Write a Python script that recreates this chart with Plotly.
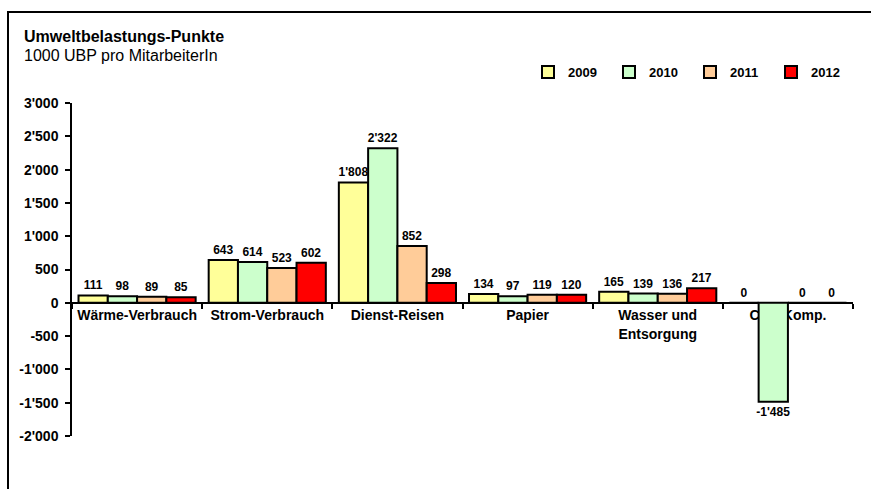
import plotly.graph_objects as go

categories = ["Wärme-Verbrauch", "Strom-Verbrauch", "Dienst-Reisen", "Papier",
              "Wasser und<br>Entsorgung", "CO2-Komp."]
years = ["2009", "2010", "2011", "2012"]
values_2009 = [111, 643, 1808, 134, 165, 0]
values_2010 = [98, 614, 2322, 97, 139, -1485]
values_2011 = [89, 523, 852, 119, 136, 0]
values_2012 = [85, 602, 298, 120, 217, 0]
colors = ["#FFFF99", "#CCFFCC", "#FFCC99", "#FF0000"]
y_ticks = [-2000, -1500, -1000, -500, 0, 500, 1000, 1500, 2000, 2500, 3000]

FONT = "Arial, 'Liberation Sans', sans-serif"


def fmt(v):
    return f"{v:,}".replace(",", "'")


series = [values_2009, values_2010, values_2011, values_2012]

fig = go.Figure()
for name, vals, col in zip(years, series, colors):
    fig.add_trace(go.Bar(
        x=categories, y=vals, name=name,
        marker=dict(color=col, line=dict(color="black", width=2)),
        text=[fmt(v) for v in vals],
        textposition="outside",
        constraintext="none",
        textfont=dict(family=FONT, size=12, color="black", weight="bold"),
        cliponaxis=False,
    ))

y_min, y_max = -2000, 3000

fig.update_layout(
    width=871, height=489,
    margin=dict(l=72, r=18, t=103, b=53, pad=0),
    paper_bgcolor="white", plot_bgcolor="white",
    barmode="group", bargap=0.1, bargroupgap=0,
    font=dict(family=FONT, color="black"),
    legend=dict(
        orientation="h", xref="paper", yref="paper",
        x=(528 - 72) / 781, y=(436 - 72) / 333, xanchor="left", yanchor="middle",
        font=dict(family=FONT, size=13, color="black", weight="bold"),
        entrywidth=36, entrywidthmode="pixels",
        itemwidth=30, bgcolor="rgba(0,0,0,0)",
    ),
    showlegend=True,
)

# title and subtitle
fig.add_annotation(text="<b>Umweltbelastungs-Punkte</b>", xref="paper", yref="paper",
                   x=(22 - 72) / 781, y=(436 - 36) / 333, xanchor="left", yanchor="middle",
                   showarrow=False, font=dict(family=FONT, size=16, color="black"))
fig.add_annotation(text="1000 UBP pro MitarbeiterIn", xref="paper", yref="paper",
                   x=(22 - 72) / 781, y=(436 - 56) / 333, xanchor="left", yanchor="middle",
                   showarrow=False, font=dict(family=FONT, size=16, color="black"))

fig.update_yaxes(
    range=[y_min, y_max], tickvals=y_ticks, ticktext=[fmt(v) for v in y_ticks],
    showgrid=False, zeroline=False, showline=True, linecolor="black", linewidth=1.5,
    ticks="outside", ticklen=5, tickwidth=1.5, tickcolor="black",
    tickfont=dict(family=FONT, size=14, color="black", weight="bold"),
    ticklabelstandoff=4,
)

fig.update_xaxes(
    anchor="free", position=(0 - y_min) / (y_max - y_min),
    showgrid=False, zeroline=False, showline=True, linecolor="black", linewidth=1.5,
    ticks="outside", tickson="boundaries", ticklen=5, tickwidth=1.5, tickcolor="black",
    tickfont=dict(family=FONT, size=14, color="black", weight="bold"),
    layer="below traces", tickangle=0,
)

# outer frame (extends past the right and bottom edges in the reference)
fig.add_shape(type="rect", xref="paper", yref="paper",
              x0=(8 - 72) / 781, x1=1.1, y0=-0.3, y1=(436 - 12) / 333,
              line=dict(color="black", width=2), fillcolor="rgba(0,0,0,0)", layer="below")

fig.write_html("out.html")
